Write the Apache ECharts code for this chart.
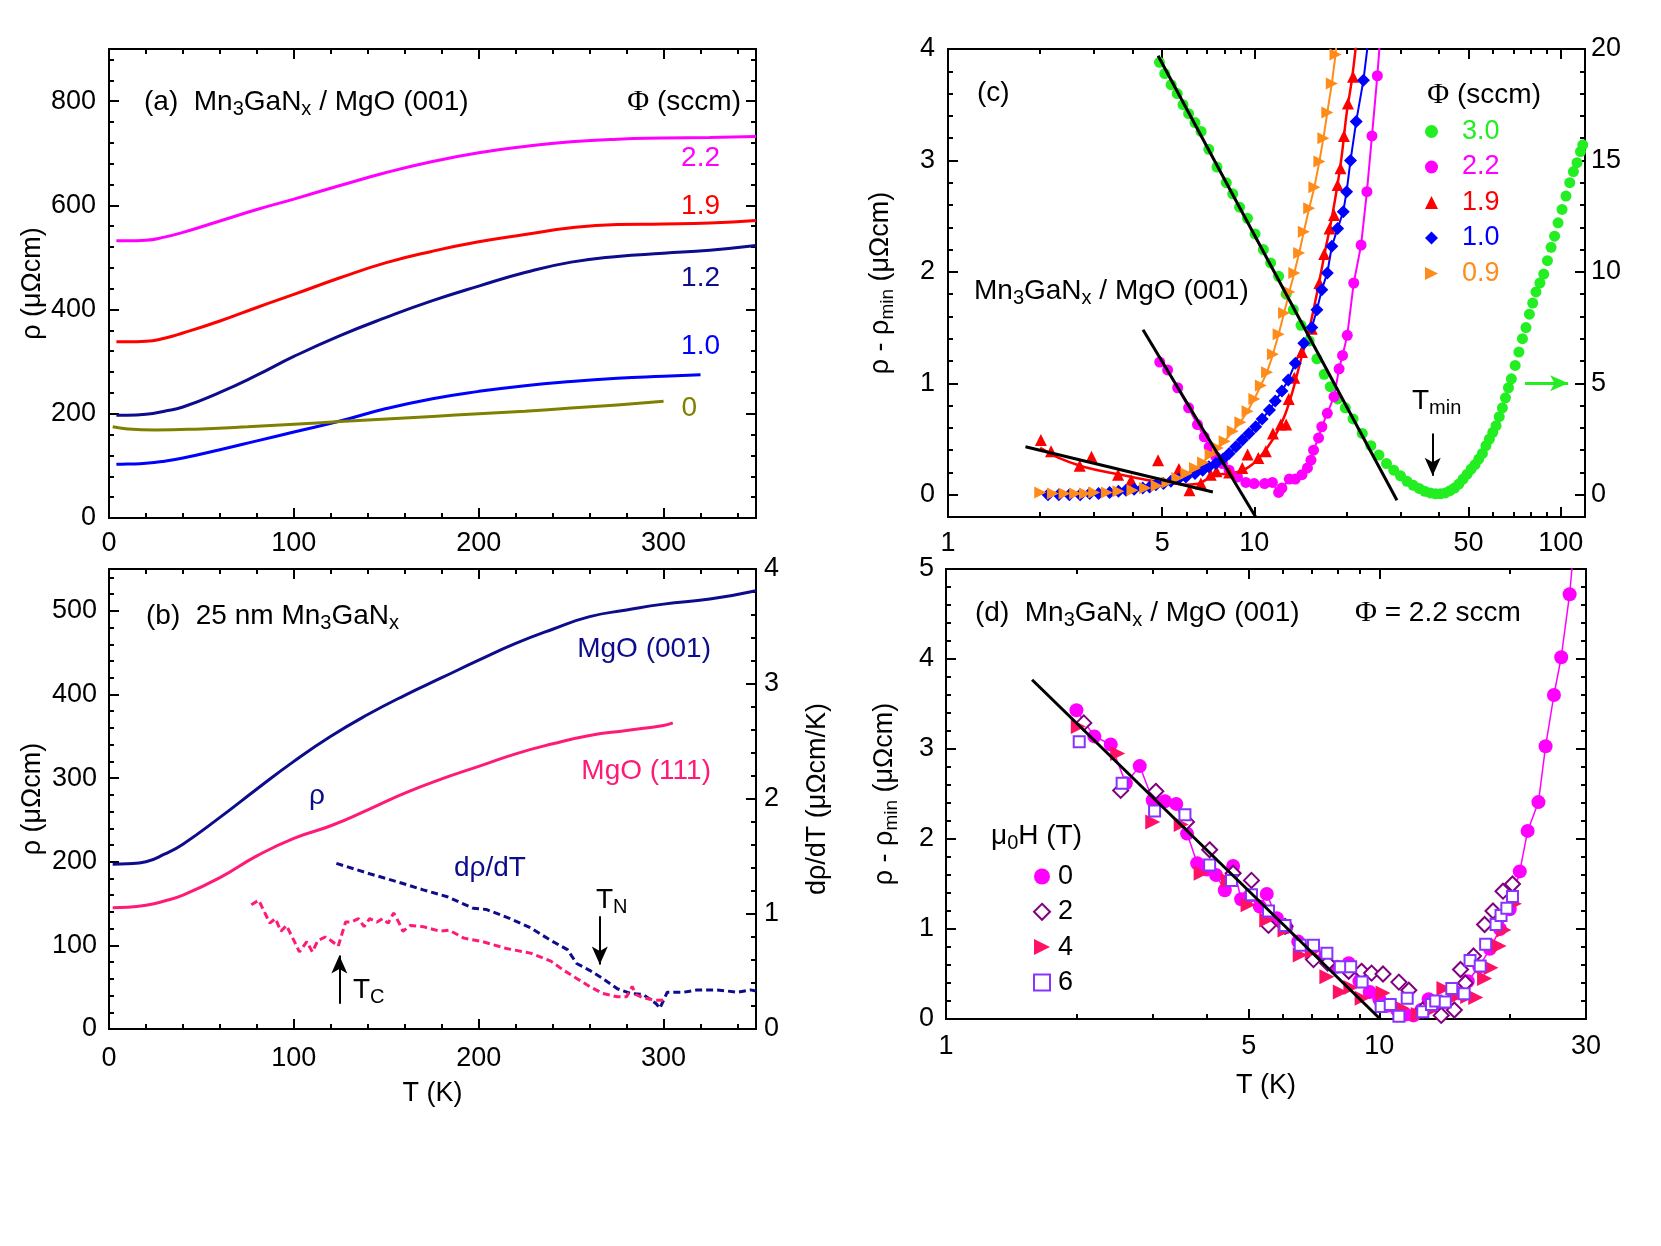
<!DOCTYPE html>
<html>
<head>
<meta charset="utf-8">
<title>Mn3GaNx resistivity</title>
<script src="https://cdn.jsdelivr.net/npm/echarts@6/dist/echarts.min.js"></script>
<style>
    html, body { margin: 0; padding: 0; background: #fff; }
    #chart { width: 1661px; height: 1246px; }
</style>
</head>
<body>
<div id="chart"></div>
<script>
// ---------- panel (a): rho(T), MgO(001), several N2 flows ----------
var aTemp = [4, 10, 20, 30, 40, 60, 80, 100, 125, 150, 175, 200, 225, 250, 275, 300, 325, 350];
var aRho22 = [532, 532, 533, 539, 548, 570, 592, 612, 638, 663, 684, 701, 713, 722, 727, 729, 730, 732];
var aRho19 = [338, 338, 339, 345, 355, 378, 404, 429, 461, 490, 512, 530, 544, 557, 563, 564, 566, 571];
var aRho12 = [197, 197, 199, 205, 213, 241, 274, 310, 350, 385, 417, 445, 471, 491, 502, 508, 514, 523];
var aTemp10 = [4, 10, 20, 30, 40, 60, 80, 100, 125, 150, 175, 200, 225, 250, 275, 300, 320];
var aRho10 = [103, 103.5, 105, 109, 115, 131, 148, 165, 186, 210, 229, 243, 254, 262, 268, 272, 275];
var aTemp0 = [2, 10, 25, 50, 75, 100, 125, 150, 175, 200, 225, 250, 275, 300];
var aRho0 = [175, 171, 169, 171, 175, 180, 185, 190, 195, 200, 205, 211, 217, 224];

// ---------- panel (b): 25 nm films on MgO(001) / MgO(111) ----------
var bTemp001 = [2, 10, 20, 30, 40, 60, 80, 100, 120, 140, 160, 180, 200, 220, 240, 260, 280, 300, 325, 350];
var bRho001 = [197, 197.5, 200, 209, 221, 253, 287, 320, 350, 376, 399, 420, 441, 461, 478, 493, 501, 508, 514, 524];
var bTemp111 = [2, 10, 20, 30, 40, 60, 80, 100, 120, 140, 160, 180, 200, 220, 240, 260, 280, 300, 305];
var bRho111 = [145, 145.5, 148, 153, 160, 181, 207, 228, 243, 262, 282, 299, 314, 329, 341, 351, 357, 363, 366];
var bDTemp001 = [123, 141, 156, 170, 183, 197, 204, 217, 228, 239, 248, 253, 260, 267, 275, 282, 289, 296, 298, 302, 311, 318, 329, 340, 347, 350];
var bDrdT001 = [1.44, 1.35, 1.28, 1.21, 1.15, 1.05, 1.04, 0.96, 0.88, 0.77, 0.69, 0.57, 0.51, 0.44, 0.35, 0.31, 0.30, 0.22, 0.18, 0.32, 0.32, 0.34, 0.34, 0.32, 0.34, 0.33];
var bDTemp111 = [77, 81, 84, 87, 90, 93, 96, 100, 103, 107, 110, 113, 117, 120, 124, 128, 131, 135, 138, 141, 145, 148, 151, 154, 157, 159, 163, 170, 179, 184, 192, 202, 215, 228, 239, 246, 253, 260, 267, 275, 280, 283, 285, 289, 296, 300];
var bDrdT111 = [1.08, 1.12, 1.02, 0.92, 0.96, 0.85, 0.90, 0.77, 0.67, 0.76, 0.67, 0.77, 0.80, 0.77, 0.72, 0.93, 0.93, 0.96, 0.89, 0.96, 0.93, 0.96, 0.92, 1.01, 0.92, 0.85, 0.90, 0.89, 0.85, 0.86, 0.79, 0.76, 0.70, 0.66, 0.59, 0.51, 0.44, 0.37, 0.31, 0.28, 0.28, 0.37, 0.30, 0.27, 0.25, 0.25];
var bArrowTN = [[265.5, 0.98], [265.5, 0.56]];
var bArrowTC = [[124.6, 0.22], [124.6, 0.64]];

// ---------- panel (c): rho - rho_min vs T (log), [T, value] ----------
var cGreen30 = [[4.9, 19.4], [5.1, 18.9], [5.35, 18.4], [5.6, 18.0], [5.85, 17.5], [6.1, 17.1], [6.4, 16.7], [6.7, 16.3], [7.1, 15.5], [7.55, 14.7], [8.1, 14.0], [8.5, 13.5], [8.95, 12.9], [9.5, 12.4], [10.05, 11.7], [10.7, 11.0], [11.3, 10.4], [12.0, 9.8], [12.7, 9.0], [13.4, 8.3], [14.2, 7.6], [15.1, 6.9], [16.0, 6.1], [16.9, 5.4], [17.7, 4.85], [18.7, 4.3], [19.8, 3.9], [21.0, 3.4], [22.5, 2.75], [24.0, 2.2], [25.5, 1.78], [27.0, 1.4], [28.5, 1.1], [30.0, 0.85], [31.5, 0.6], [33.0, 0.42], [34.5, 0.28], [36.0, 0.15], [37.5, 0.08], [39.0, 0.04], [40.5, 0.04], [42.0, 0.08], [43.5, 0.18], [45.0, 0.3], [46.5, 0.48], [48.0, 0.7], [49.5, 0.92], [51.0, 1.15], [52.5, 1.35], [54.0, 1.6], [55.5, 1.85], [57.0, 2.2], [58.5, 2.5], [60.0, 2.8], [61.5, 3.1], [63.0, 3.5], [64.5, 3.9], [66.0, 4.35], [67.5, 4.8], [69.0, 5.2], [71.0, 5.8], [73.0, 6.4], [75.0, 7.0], [77.0, 7.5], [79.0, 8.1], [81.0, 8.6], [83.0, 9.1], [85.5, 9.5], [88.0, 9.9], [90.5, 10.5], [93.0, 11.1], [95.5, 11.6], [98.0, 12.2], [101, 12.8], [104, 13.4], [107, 14.0], [110, 14.5], [113, 14.9], [116, 15.4], [118, 15.7]];
var cMag22 = [[4.91, 1.19], [5.21, 1.12], [5.62, 0.96], [6.1, 0.78], [6.52, 0.63], [6.86, 0.52], [7.12, 0.43], [7.49, 0.34], [7.87, 0.28], [8.27, 0.22], [8.81, 0.16], [9.38, 0.11], [9.98, 0.10], [10.8, 0.10], [11.45, 0.11], [12.0, 0.02], [12.3, 0.06], [13.0, 0.14], [13.6, 0.14], [14.3, 0.18], [14.9, 0.24], [15.3, 0.31], [15.6, 0.40], [16.2, 0.51], [16.6, 0.61], [17.3, 0.73], [18.2, 0.88], [18.9, 1.13], [19.4, 1.25], [20.1, 1.43], [21.1, 1.90], [22.3, 2.24], [23.3, 2.72], [24.2, 3.22], [25.2, 3.76], [25.9, 4.2]];
var cRed19 = [[2.01, 0.49], [2.17, 0.39], [2.69, 0.26], [2.94, 0.34], [3.59, 0.18], [3.96, 0.13], [4.85, 0.31], [5.67, 0.23], [6.14, 0.04], [6.69, 0.10], [7.2, 0.18], [7.52, 0.21], [8.27, 0.20], [9.13, 0.24], [9.5, 0.36], [10.3, 0.33], [10.9, 0.39], [11.5, 0.55], [12.2, 0.63], [12.7, 0.63], [12.95, 0.86], [13.5, 1.05], [14.3, 1.28], [15.4, 1.49], [16.3, 1.90], [16.9, 2.16], [17.6, 2.39], [18.2, 2.51], [18.7, 2.78], [19.1, 2.93], [19.6, 3.22], [20.2, 3.51], [21.0, 3.75]];
var cRedLine19 = [[2.0, 0.42], [2.3, 0.33], [2.7, 0.26], [3.2, 0.21], [3.8, 0.17], [4.5, 0.13], [5.2, 0.11], [6.0, 0.09], [6.6, 0.10], [7.0, 0.14], [7.5, 0.18], [8.2, 0.19], [9.0, 0.21], [9.6, 0.25], [10.2, 0.31], [11.0, 0.42], [11.8, 0.55], [12.6, 0.72], [13.4, 0.95], [14.3, 1.25], [15.2, 1.52], [16.2, 1.88], [17.0, 2.18], [17.8, 2.45], [18.6, 2.75], [19.3, 3.05], [20.0, 3.42], [20.8, 3.72], [21.6, 4.1]];
var cBlue10 = [[2.12, 0.0], [2.3, 0.0], [2.49, 0.0], [2.7, 0.0], [2.9, 0.01], [3.1, 0.01], [3.37, 0.02], [3.6, 0.03], [3.81, 0.04], [4.05, 0.05], [4.32, 0.06], [4.55, 0.07], [4.77, 0.09], [5.05, 0.10], [5.34, 0.12], [5.65, 0.14], [5.98, 0.16], [6.4, 0.19], [6.78, 0.22], [7.1, 0.25], [7.49, 0.28], [7.9, 0.32], [8.27, 0.37], [8.7, 0.43], [9.14, 0.49], [9.6, 0.55], [10.1, 0.61], [10.6, 0.68], [11.2, 0.76], [11.7, 0.84], [12.3, 0.93], [12.9, 1.03], [13.6, 1.18], [14.5, 1.36], [15.4, 1.50], [16.0, 1.66], [16.6, 1.84], [17.3, 1.99], [17.9, 2.23], [18.7, 2.39], [19.5, 2.54], [20.0, 2.72], [20.6, 3.00], [21.5, 3.35], [22.7, 3.72], [23.6, 4.1]];
var cOrange09 = [[2.0, 0.02], [2.2, 0.01], [2.4, 0.01], [2.6, 0.01], [2.8, 0.01], [3.0, 0.02], [3.3, 0.02], [3.6, 0.03], [4.0, 0.04], [4.4, 0.06], [4.8, 0.08], [5.2, 0.11], [5.6, 0.15], [6.0, 0.19], [6.4, 0.24], [6.8, 0.29], [7.2, 0.36], [7.6, 0.42], [8.0, 0.48], [8.5, 0.57], [9.0, 0.65], [9.5, 0.75], [10.0, 0.86], [10.5, 0.98], [11.0, 1.10], [11.5, 1.26], [12.0, 1.44], [12.5, 1.63], [13.0, 1.82], [13.5, 1.99], [14.0, 2.17], [14.5, 2.36], [15.1, 2.57], [15.7, 2.76], [16.3, 2.99], [16.8, 3.20], [17.3, 3.43], [17.9, 3.69], [18.4, 3.95], [18.7, 4.15]];
var cFitGreen = [[4.85, 3.94], [29.2, -0.05]];
var cFitMag = [[4.33, 1.48], [10.1, -0.2]];
var cFitRed = [[1.79, 0.43], [7.32, 0.024]];
var cArrowTmin = [[38.2, 0.55], [38.2, 0.17]];
var cArrowRight = [[76.4, 1.0], [105.7, 1.0]];

// ---------- panel (d): Phi = 2.2 sccm in field, [T, value] ----------
var dH0 = [[2.0, 3.43], [2.2, 3.14], [2.4, 3.05], [2.6, 2.62], [2.8, 2.81], [3.0, 2.43], [3.2, 2.42], [3.4, 2.39], [3.6, 2.06], [3.8, 1.73], [4.0, 1.66], [4.2, 1.60], [4.4, 1.43], [4.6, 1.70], [4.8, 1.33], [5.0, 1.36], [5.3, 1.25], [5.5, 1.39], [5.8, 1.12], [6.1, 1.02], [6.5, 0.86], [7.0, 0.80], [7.5, 0.70], [8.0, 0.58], [8.5, 0.62], [9.0, 0.42], [9.5, 0.30], [10.0, 0.22], [10.5, 0.15], [11.0, 0.10], [11.5, 0.05], [12.0, 0.04], [12.5, 0.10], [13.0, 0.22], [13.5, 0.15], [14.0, 0.18], [15.0, 0.30], [16.0, 0.42], [17.0, 0.58], [18.0, 0.78], [19.0, 1.00], [20.0, 1.22], [21.1, 1.64], [22.0, 2.09], [23.3, 2.41], [24.2, 3.03], [25.3, 3.60], [26.3, 4.02], [27.5, 4.72], [28.2, 5.3]];
var dH2 = [[2.08, 3.29], [2.53, 2.54], [3.05, 2.53], [3.59, 2.19], [4.06, 1.88], [4.6, 1.62], [5.07, 1.54], [5.55, 1.04], [6.06, 1.03], [7.05, 0.66], [7.6, 0.62], [8.5, 0.53], [9.1, 0.53], [9.6, 0.51], [10.2, 0.50], [11.1, 0.41], [11.7, 0.32], [12.6, 0.10], [13.9, 0.04], [14.9, 0.10], [15.4, 0.55], [15.8, 0.40], [16.5, 0.70], [17.5, 1.05], [18.3, 1.20], [19.3, 1.42], [20.3, 1.50]];
var dH4 = [[2.02, 3.25], [2.49, 2.95], [3.0, 2.19], [3.49, 2.16], [3.88, 1.62], [4.48, 1.54], [4.98, 1.27], [5.5, 1.10], [6.06, 0.99], [6.57, 0.71], [7.0, 0.75], [7.57, 0.47], [8.13, 0.30], [8.6, 0.35], [9.13, 0.23], [10.2, 0.29], [11.3, 0.12], [12.3, 0.05], [13.2, 0.10], [14.1, 0.34], [14.9, 0.24], [16.0, 0.25], [16.7, 0.24], [17.5, 0.45], [18.1, 0.57], [18.9, 0.81], [19.4, 0.99], [20.5, 1.28]];
var dH6 = [[2.03, 3.08], [2.55, 2.62], [3.03, 2.31], [3.56, 2.27], [4.06, 1.71], [4.56, 1.54], [5.07, 1.38], [5.55, 1.20], [6.06, 1.04], [6.57, 0.82], [7.05, 0.82], [7.57, 0.73], [8.13, 0.58], [8.59, 0.58], [9.13, 0.41], [10.1, 0.14], [10.6, 0.16], [11.1, 0.03], [11.6, 0.23], [12.6, 0.08], [13.2, 0.16], [13.5, 0.20], [14.2, 0.19], [14.7, 0.34], [15.7, 0.28], [16.2, 0.65], [17.1, 0.59], [17.6, 0.83], [18.6, 1.05], [19.1, 1.15], [19.7, 1.23], [20.3, 1.36]];
var dFit = [[1.58, 3.77], [10.05, 0]];

// ---------- tick labels ----------
var aXTicks = [0, 100, 200, 300];
var aYTicks = [0, 200, 400, 600, 800];
var bYTicks = [0, 100, 200, 300, 400, 500];
var bY2Ticks = [0, 1, 2, 3, 4];
var cXTicks = [1, 5, 10, 50, 100];
var cXMinor = [2, 3, 4, 6, 7, 8, 9, 20, 30, 40, 60, 70, 80, 90];
var cYTicks = [0, 1, 2, 3, 4];
var cY2Ticks = [0, 5, 10, 15, 20];
var dXTicks = [1, 5, 10, 30];
var dXMinor = [2, 3, 4, 6, 7, 8, 9, 20];
var dYTicks = [0, 1, 2, 3, 4, 5];

var FONT = '"Liberation Sans", Arial, Helvetica, sans-serif';
var FS = 27;      // tick labels, axis names, legends
var FS_T = 28;    // annotations inside the frames
var C = {
    magenta: '#ff00ff', red: '#ff0000', navy: '#0c0c8c', blue: '#0000ff', olive: '#808000',
    pink: '#ff1a75', green: '#22ee22', orange: '#ff8c1a', purple: '#800080', rose: '#ff1166', violet: '#8833ff'
};
var RIGHT_TRI = 'path://M0,0 L10,5 L0,10 Z';

/**
 * tick positions between from and to
 */
function steps(from, to, step) {
    var out = [];
    for (var v = from; v <= to + 1e-9; v += step) {
        out.push(Math.round(v * 1000) / 1000);
    }
    return out;
}

function lg(v) { return Math.log10(v); }
function logPairs(pairs) { return pairs.map(function (p) { return [lg(p[0]), p[1]]; }); }
function zip(xs, ys) { return xs.map(function (x, i) { return [x, ys[i]]; }); }
function plainFmt(v) { return String(v); }
function logFmt(v) { return String(Math.round(Math.pow(10, v))); }

var RICH_AXIS = { sub: { fontSize: 19, fontFamily: FONT, color: '#000', padding: [14, 0, 0, 0] } };

/**
 * one tick-only (or labelled) axis of a frame
 */
function tickAxis(g, pos, s, isMajor, withLabel) {
    var ax = {
        type: 'value', gridIndex: g, position: pos, min: s.min, max: s.max,
        axisLine: { show: false, onZero: false },
        splitLine: { show: false },
        axisTick: {
            show: true, inside: true, length: isMajor ? 10 : 5,
            customValues: isMajor ? s.major : s.minor,
            lineStyle: { color: '#000', width: 2 }
        },
        axisLabel: { show: false }
    };
    if (withLabel) {
        ax.axisLabel = {
            show: true, interval: 0, customValues: s.labels || s.major, margin: s.margin,
            formatter: s.fmt || plainFmt, color: '#000', fontSize: FS, fontFamily: FONT
        };
        if (s.name) {
            ax.name = s.name;
            ax.nameLocation = 'middle';
            ax.nameGap = s.nameGap;
            if (s.nameRotate != null) ax.nameRotate = s.nameRotate;
            ax.nameTextStyle = { color: '#000', fontSize: FS, fontFamily: FONT, rich: RICH_AXIS };
        }
    }
    return ax;
}

/**
 * major + minor tick axes on one side, returns index of the major one
 */
function addSide(list, g, pos, s, withLabel) {
    var idx = list.length;
    list.push(tickAxis(g, pos, s, true, withLabel));
    list.push(tickAxis(g, pos, s, false, false));
    return idx;
}

var aXSpec = { min: 0, max: 350, major: aXTicks, minor: steps(0, 350, 20), margin: 12 };
var aYSpec = { min: 0, max: 900, major: aYTicks, minor: steps(0, 900, 40), margin: 13, name: 'ρ (μΩcm)', nameGap: 63 };
var bXSpec = { min: 0, max: 350, major: aXTicks, minor: steps(0, 350, 20), margin: 16, name: 'T (K)', nameGap: 51 };
var bYSpec = { min: 0, max: 550, major: bYTicks, minor: steps(0, 550, 20), margin: 12, name: 'ρ (μΩcm)', nameGap: 63 };
var bY2Spec = { min: 0, max: 4, major: bY2Ticks, minor: steps(0, 4, 0.2), margin: 8, name: 'dρ/dT (μΩcm/K)', nameGap: 48, nameRotate: 90 };
var cXSpec = { min: 0, max: lg(120), major: cXTicks.map(lg), minor: cXMinor.map(lg), fmt: logFmt, margin: 13 };
var cYSpec = { min: -0.2, max: 4, major: cYTicks, minor: steps(-0.2, 4, 0.2), margin: 13, name: 'ρ - ρ{sub|min} (μΩcm)', nameGap: 51 };
var cY2Spec = { min: -1, max: 20, major: cY2Ticks, minor: steps(-1, 20, 1), margin: 6 };
var dXSpec = { min: 0, max: lg(30), major: dXTicks.map(lg), minor: dXMinor.map(lg), fmt: logFmt, margin: 14, name: 'T (K)', nameGap: 53 };
var dYSpec = { min: 0, max: 5, major: dYTicks, minor: steps(0, 5, 0.2), margin: 12, name: 'ρ - ρ{sub|min} (μΩcm)', nameGap: 45 };

var xAxes = [], yAxes = [];
// panel a
var aX = addSide(xAxes, 0, 'bottom', aXSpec, true); addSide(xAxes, 0, 'top', aXSpec, false);
var aY = addSide(yAxes, 0, 'left', aYSpec, true); addSide(yAxes, 0, 'right', aYSpec, false);
// panel b
var bX = addSide(xAxes, 1, 'bottom', bXSpec, true); addSide(xAxes, 1, 'top', bXSpec, false);
var bY = addSide(yAxes, 1, 'left', bYSpec, true);
var bY2 = addSide(yAxes, 1, 'right', bY2Spec, true);
// panel c
var cX = addSide(xAxes, 2, 'bottom', cXSpec, true); addSide(xAxes, 2, 'top', cXSpec, false);
var cY = addSide(yAxes, 2, 'left', cYSpec, true);
var cY2 = addSide(yAxes, 2, 'right', cY2Spec, true);
// panel d
var dX = addSide(xAxes, 3, 'bottom', dXSpec, true); addSide(xAxes, 3, 'top', dXSpec, false);
var dY = addSide(yAxes, 3, 'left', dYSpec, true); addSide(yAxes, 3, 'right', dYSpec, false);

function curve(name, xi, yi, data, color, width, extra) {
    var s = {
        name: name, type: 'line', xAxisIndex: xi, yAxisIndex: yi, data: data,
        symbol: 'none', showSymbol: false, silent: true, z: 3,
        lineStyle: { color: color, width: width || 3 }, itemStyle: { color: color }
    };
    for (var k in extra) s[k] = extra[k];
    return s;
}

function marked(name, xi, yi, data, color, symbol, size, extra) {
    var s = {
        name: name, type: 'line', xAxisIndex: xi, yAxisIndex: yi, data: data,
        symbol: symbol, symbolSize: size, showSymbol: true, silent: true, z: 3,
        lineStyle: { color: color, width: 2 }, itemStyle: { color: color, opacity: 1 }
    };
    for (var k in extra) s[k] = extra[k];
    return s;
}

function dots(name, xi, yi, data, color, symbol, size, extra) {
    var s = {
        name: name, type: 'scatter', xAxisIndex: xi, yAxisIndex: yi, data: data,
        symbol: symbol, symbolSize: size, silent: true, z: 3,
        itemStyle: { color: color, opacity: 1 }
    };
    for (var k in extra) s[k] = extra[k];
    return s;
}

function arrow(from, to, color, width) {
    return [{ coord: from, lineStyle: { color: color, width: width, type: 'solid' } }, { coord: to }];
}

var series = [
    // (a)
    curve('a2.2', aX, aY, zip(aTemp, aRho22), C.magenta, 3, { smooth: 0.5 }),
    curve('a1.9', aX, aY, zip(aTemp, aRho19), C.red, 3, { smooth: 0.5 }),
    curve('a1.2', aX, aY, zip(aTemp, aRho12), C.navy, 3, { smooth: 0.5 }),
    curve('a1.0', aX, aY, zip(aTemp10, aRho10), C.blue, 3, { smooth: 0.5 }),
    curve('a0', aX, aY, zip(aTemp0, aRho0), C.olive, 3, { smooth: 0.5 }),
    // (b)
    curve('b001', bX, bY, zip(bTemp001, bRho001), C.navy, 3, { smooth: 0.5 }),
    curve('b111', bX, bY, zip(bTemp111, bRho111), C.pink, 3, { smooth: 0.5 }),
    {
        name: 'bd001', type: 'line', xAxisIndex: bX, yAxisIndex: bY2, data: zip(bDTemp001, bDrdT001),
        symbol: 'none', silent: true, z: 3,
        lineStyle: { color: C.navy, width: 3, type: [7, 4] },
        markLine: {
            silent: true, symbol: ['none', 'arrow'], symbolSize: [12, 18], label: { show: false },
            animation: false,
            data: [arrow(bArrowTN[0], bArrowTN[1], '#000', 2), arrow(bArrowTC[0], bArrowTC[1], '#000', 2)]
        }
    },
    {
        name: 'bd111', type: 'line', xAxisIndex: bX, yAxisIndex: bY2, data: zip(bDTemp111, bDrdT111),
        symbol: 'none', silent: true, z: 3,
        lineStyle: { color: C.pink, width: 3, type: [7, 4] }
    },
    // (c)
    dots('3.0', cX, cY2, logPairs(cGreen30), C.green, 'circle', 11),
    marked('2.2', cX, cY, logPairs(cMag22), C.magenta, 'circle', 11),
    curve('c1.9 line', cX, cY, logPairs(cRedLine19), C.red, 2.5, { smooth: 0.3 }),
    dots('1.9', cX, cY, logPairs(cRed19), C.red, 'triangle', 12),
    marked('1.0', cX, cY, logPairs(cBlue10), C.blue, 'diamond', 13),
    marked('0.9', cX, cY, logPairs(cOrange09), C.orange, 'triangle', 12, { symbolRotate: -90 }),
    curve('c fit green', cX, cY, logPairs(cFitGreen), '#000', 3, {
        z: 6,
        markLine: {
            silent: true, symbol: ['none', 'arrow'], symbolSize: [12, 18], label: { show: false },
            animation: false,
            data: [
                arrow(logPairs(cArrowTmin)[0], logPairs(cArrowTmin)[1], '#000', 2),
                arrow(logPairs(cArrowRight)[0], logPairs(cArrowRight)[1], C.green, 3)
            ]
        }
    }),
    curve('c fit mag', cX, cY, logPairs(cFitMag), '#000', 3, { z: 6 }),
    curve('c fit red', cX, cY, logPairs(cFitRed), '#000', 3, { z: 6 }),
    // (d)
    marked('0', dX, dY, logPairs(dH0), C.magenta, 'circle', 14, { lineStyle: { color: C.magenta, width: 1.5 }, z: 2 }),
    dots('2', dX, dY, logPairs(dH2), C.purple, 'emptyDiamond', 15),
    dots('4', dX, dY, logPairs(dH4), C.rose, 'triangle', 15, { symbolRotate: -90 }),
    dots('6', dX, dY, logPairs(dH6), C.violet, 'emptyRect', 11),
    curve('d fit', dX, dY, logPairs(dFit), '#000', 3, { z: 6 })
];

// ---------- free text on the panels ----------
var RICH = {
    sub: { font: '20px ' + FONT, padding: [15, 0, 0, 0] },
    serif: { font: '30px "Liberation Serif", "DejaVu Serif", serif' }
};

function label(x, y, text, color, align) {
    return {
        type: 'text', x: x, y: y, silent: true, z: 100,
        style: {
            text: text, fill: color || '#000', font: FS_T + 'px ' + FONT, rich: RICH,
            align: align || 'left', verticalAlign: 'middle',
            textAlign: align || 'left', textVerticalAlign: 'middle'
        }
    };
}

var texts = [
    label(144, 102, '(a)  Mn{sub|3}GaN{sub|x} / MgO (001)'),
    label(741, 102, '{serif|Φ} (sccm)', '#000', 'right'),
    label(720, 158, '2.2', C.magenta, 'right'),
    label(720, 206, '1.9', C.red, 'right'),
    label(720, 278, '1.2', C.navy, 'right'),
    label(720, 346, '1.0', C.blue, 'right'),
    label(697, 408, '0', C.olive, 'right'),

    label(146, 616, '(b)  25 nm Mn{sub|3}GaN{sub|x}'),
    label(711, 649, 'MgO (001)', C.navy, 'right'),
    label(711, 771, 'MgO (111)', C.pink, 'right'),
    label(309, 796, 'ρ', C.navy),
    label(454, 868, 'dρ/dT', C.navy),
    label(596, 900, 'T{sub|N}'),
    label(353, 990, 'T{sub|C}'),

    label(977, 93, '(c)'),
    label(1541, 95, '{serif|Φ} (sccm)', '#000', 'right'),
    label(974, 291, 'Mn{sub|3}GaN{sub|x} / MgO (001)'),
    label(1412, 401, 'T{sub|min}'),

    label(975, 613, '(d)  Mn{sub|3}GaN{sub|x} / MgO (001)'),
    label(1355, 613, '{serif|Φ} = 2.2 sccm'),
    label(991, 836, 'μ{sub|0}H (T)')
];

var option = {
    backgroundColor: '#fff',
    animation: false,
    textStyle: { fontFamily: FONT },
    grid: [
        { left: 109, top: 49, width: 647, height: 469 },
        { left: 109, top: 569, width: 647, height: 460 },
        { left: 948, top: 49, width: 637, height: 468 },
        { left: 946, top: 569, width: 640, height: 450 }
    ].map(function (g) {
        g.show = true; g.borderColor = '#000'; g.borderWidth = 2;
        g.backgroundColor = 'transparent'; g.containLabel = false; g.outerBoundsMode = 'none';
        return g;
    }),
    xAxis: xAxes,
    yAxis: yAxes,
    legend: [
        {
            orient: 'vertical', left: 1420, top: 113, itemWidth: 13, itemHeight: 13, itemGap: 8.5,
            selectedMode: false,
            textStyle: { fontSize: FS, fontFamily: FONT, padding: [0, 0, 0, 19] },
            data: [
                { name: '3.0', icon: 'circle', textStyle: { color: C.green } },
                { name: '2.2', icon: 'circle', textStyle: { color: C.magenta } },
                { name: '1.9', icon: 'triangle', textStyle: { color: C.red } },
                { name: '1.0', icon: 'diamond', textStyle: { color: C.blue } },
                { name: '0.9', icon: RIGHT_TRI, textStyle: { color: C.orange } }
            ]
        },
        {
            orient: 'vertical', left: 1028, top: 858, itemWidth: 16, itemHeight: 16, itemGap: 8.3,
            selectedMode: false,
            textStyle: { fontSize: FS, fontFamily: FONT, color: '#000', padding: [0, 0, 0, 3] },
            data: [
                { name: '0', icon: 'circle' },
                { name: '2', icon: 'emptyDiamond' },
                { name: '4', icon: RIGHT_TRI },
                { name: '6', icon: 'emptyRect' }
            ]
        }
    ],
    graphic: { elements: texts },
    series: series
};

var chart = echarts.init(document.getElementById('chart'));
chart.setOption(option);
</script>
</body>
</html>
